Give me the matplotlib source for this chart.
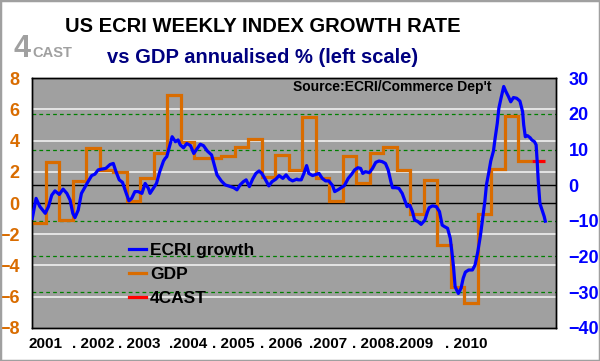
import matplotlib
matplotlib.use('Agg')
from matplotlib import pyplot as plt
from matplotlib.patches import Rectangle
import numpy as np

plt.rcParams['font.family'] = ['Liberation Sans', 'DejaVu Sans']

# quarterly GDP, annualised %, from 2001 Q1 to 2010 Q1 (left scale)
gdp_start = 2001.0
gdp = [-1.3, 2.6, -1.1, 1.4,
       3.5, 2.1, 2.0, 0.1,
       1.6, 3.2, 6.9, 3.9,
       2.9, 2.9, 3.0, 3.6,
       4.1, 1.7, 3.1, 2.1,
       5.5, 1.6, 0.1, 3.0,
       1.3, 3.2, 3.6, 2.1,
       -0.7, 1.5, -2.7, -5.4,
       -6.4, -0.7, 2.2, 5.6,
       2.7]
# 4CAST forecast for 2010 Q2
fcast = [2.7]

# ECRI weekly index growth (right scale)
ecri_t = [2001.00, 2001.07, 2001.14, 2001.24, 2001.30, 2001.36, 2001.42, 2001.50, 2001.57, 2001.64,
          2001.70, 2001.75, 2001.79, 2001.85, 2001.91, 2001.98, 2002.04, 2002.10, 2002.16, 2002.22,
          2002.28, 2002.36, 2002.44, 2002.50, 2002.55, 2002.61, 2002.67, 2002.74, 2002.79, 2002.84,
          2002.90, 2002.96, 2003.03, 2003.09, 2003.15, 2003.18, 2003.24, 2003.30, 2003.36, 2003.43,
          2003.46,
          2003.49, 2003.54, 2003.59, 2003.65, 2003.70, 2003.74, 2003.80, 2003.86, 2003.93, 2003.99,
          2004.05, 2004.11, 2004.17, 2004.24, 2004.32, 2004.38, 2004.42, 2004.50, 2004.57, 2004.67,
          2004.73, 2004.79, 2004.85, 2004.91, 2004.96, 2005.02, 2005.08, 2005.14, 2005.20, 2005.25,
          2005.32, 2005.38, 2005.44, 2005.51, 2005.57, 2005.64, 2005.70, 2005.76, 2005.82, 2005.90,
          2005.92, 2005.98, 2006.03, 2006.08, 2006.12, 2006.19, 2006.25, 2006.31, 2006.37, 2006.43,
          2006.49, 2006.56, 2006.60, 2006.66, 2006.72, 2006.78, 2006.85, 2006.91, 2006.97, 2007.03,
          2007.08, 2007.12, 2007.17, 2007.24, 2007.30, 2007.36, 2007.42, 2007.48, 2007.54, 2007.59,
          2007.64, 2007.67, 2007.73, 2007.79, 2007.85, 2007.90, 2007.94, 2007.99, 2008.04, 2008.08,
          2008.14, 2008.20, 2008.27, 2008.32,
          2008.35, 2008.41, 2008.48, 2008.54, 2008.59, 2008.63, 2008.69, 2008.74, 2008.77, 2008.80,
          2008.83, 2008.89, 2008.94, 2008.98, 2009.02, 2009.08, 2009.15, 2009.20, 2009.25, 2009.30,
          2009.34, 2009.38, 2009.41, 2009.45, 2009.49, 2009.54, 2009.57, 2009.61, 2009.64, 2009.68,
          2009.73, 2009.77, 2009.82, 2009.86, 2009.91, 2009.97, 2010.03, 2010.08, 2010.10, 2010.13,
          2010.17, 2010.22, 2010.25, 2010.30, 2010.33, 2010.35, 2010.37, 2010.40, 2010.44, 2010.48,
          2010.50]
ecri_v = [-9.3, -3.7, -6.0, -7.9, -6.0, -2.8, -1.6, -2.6, -1.1, -2.3,
          -4.2, -7.9, -9.1, -7.0, -2.3, -0.4, 1.2, 2.7, 3.1, 4.3,
          4.5, 4.7, 5.8, 6.1, 3.8, 1.5, 0.8, -2.3, -4.4, -3.7,
          -1.8, -1.8, -2.3, 0.5, -0.9, -2.3, -0.9, 0.5, 3.8, 6.8,
          7.5,
          8.0, 10.8, 13.6, 12.2, 12.7, 11.3, 10.5, 11.7, 11.1, 8.9,
          10.2, 11.5, 11.1, 9.6, 8.5, 5.2, 2.9, 1.2, 0.1, -0.4,
          -0.7, -1.3, 0.1, 1.0, 1.5, -0.4, 1.7, 3.3, 4.0, 3.3,
          1.5, -0.2, 1.0, 1.7, 2.7, 1.9, 2.9, 1.7, 1.2, 1.7,
          1.5, 1.5, 3.3, 5.5, 3.3, 2.7, 3.0, 3.3, 1.9, 1.2,
          1.2, -0.1, -1.8, -1.3, -0.7, -0.1, 1.9, 3.0, 4.3, 4.9,
          4.7, 3.3, 3.8, 3.5, 4.7, 6.4, 6.8, 6.6, 6.1, 4.3,
          1.0, -0.7, -0.7, -0.9, -2.3, -4.4, -6.0, -5.6, -7.4, -9.8,
          -10.2, -11.0, -9.8, -7.4,
          -6.3, -5.8, -6.0, -7.4, -11.2, -11.6, -12.1, -14.9, -18.7, -22.9,
          -28.5, -30.4, -28.9, -26.1, -24.4, -23.8, -23.8, -22.4, -18.7, -14.0,
          -9.3, -4.6, 0.1, 3.3, 6.8, 9.6, 13.1, 17.3, 21.6, 24.4,
          27.7, 26.3, 24.8, 23.4, 24.6, 24.4, 23.6, 20.6, 16.9, 13.6,
          13.9, 13.3, 12.7, 12.2, 11.3, 6.6, 1.0, -5.1, -7.0, -8.8,
          -10.1]

left_ticks = [-8, -6, -4, -2, 0, 2, 4, 6, 8]
right_ticks = [-40, -30, -20, -10, 0, 10, 20, 30]
year_labels = ['2001', '. 2002', '. 2003', '.2004', '. 2005', '. 2006',
               '.2007', '. 2008', '.2009', '. 2010']

ORANGE = '#D96C00'
BLUE = '#0000FF'
GRAY_BG = '#A0A0A0'

fig = plt.figure(figsize=(6.0, 3.61), dpi=100)
ax = fig.add_axes([32.3 / 600, 1 - 327.7 / 361, (556 - 32.3) / 600, (327.7 - 78.3) / 361])
ax2 = ax.twinx()

xlim = (2001.0, 2001.0 + (556 - 32.3) / 54.0)
ylim_l = (-8, 8)
ylim_r = (-40, 30)

def r2l(r):
    return ylim_l[0] + (r - ylim_r[0]) * (ylim_l[1] - ylim_l[0]) / (ylim_r[1] - ylim_r[0])

ax.set_facecolor(GRAY_BG)
for v in left_ticks[1:-1]:
    if v == 0:
        ax.axhline(v, color='black', lw=1.0, zorder=1)
    else:
        ax.axhline(v, color='#F0F0F0', lw=1.2, zorder=1)
for r in right_ticks[1:-1]:
    if r == 0:
        ax.axhline(r2l(r), color='black', lw=1.0, zorder=1)
    else:
        ax.axhline(r2l(r), color='#008000', lw=0.9, ls=(0, (3, 2.5)), zorder=1)

edges = gdp_start + 0.25 * np.arange(len(gdp) + 1)
ax.stairs(gdp, edges, baseline=None, color=ORANGE, lw=2.3, zorder=3)
f_edges = edges[-1] + 0.25 * np.arange(len(fcast) + 1)
ax.stairs(fcast, f_edges, baseline=None, color='#FF0000', lw=2.3, zorder=3)

ax2.plot(ecri_t, ecri_v, color=BLUE, lw=2.3, zorder=4)

ax.set_xlim(*xlim)
ax.set_ylim(*ylim_l)
ax2.set_ylim(*ylim_r)
ax.set_xticks([])
ax.set_yticks(left_ticks)
ax2.set_yticks(right_ticks)
ax.tick_params(axis='y', length=0, pad=9, labelsize=13, labelcolor=ORANGE)
ax2.tick_params(axis='y', length=0, pad=9, labelsize=13, labelcolor=BLUE)
for lab in ax.get_yticklabels() + ax2.get_yticklabels():
    lab.set_fontweight('bold')
for sp in list(ax.spines.values()) + list(ax2.spines.values()):
    sp.set_color('black')
    sp.set_linewidth(1.0)

# year labels under the axis
label_px = [28.3, 72.0, 118.5, 168.5, 212.5, 259.5, 309.5, 352.5, 395.0, 445.0]
for lab, px in zip(year_labels, label_px):
    fig.text(px / 600, 1 - 344.5 / 361, lab, ha='left', va='center',
             fontsize=11, fontweight='bold', color='black')

# legend
handles = [plt.Line2D([], [], color=BLUE, lw=2.3),
           plt.Line2D([], [], color=ORANGE, lw=2.3),
           plt.Line2D([], [], color='#FF0000', lw=2.3)]
leg = fig.legend(handles, ['ECRI growth', 'GDP', '4CAST'], loc='upper left',
                 bbox_to_anchor=(129 / 600, 1 - 243 / 361), frameon=False,
                 borderpad=0, borderaxespad=0, handlelength=1.0, handletextpad=0.2,
                 labelspacing=0.5, prop={'weight': 'bold', 'size': 12.5})

# titles
fig.text(262.5 / 600, 1 - 31.7 / 361, 'US ECRI WEEKLY INDEX GROWTH RATE', ha='center',
         va='baseline', fontsize=14.5, fontweight='bold', color='black')
fig.text(262.5 / 600, 1 - 62.7 / 361, 'vs GDP annualised % (left scale)', ha='center',
         va='baseline', fontsize=14.5, fontweight='bold', color='#000080')
fig.text(14 / 600, 1 - 57.3 / 361, '4', ha='left', va='baseline',
         fontsize=22, fontweight='bold', color='#A0A0A0')
fig.text(32 / 600, 1 - 57.3 / 361, 'CAST', ha='left', va='baseline',
         fontsize=10.5, fontweight='bold', color='#A0A0A0')
fig.text(293 / 600, 1 - 90.7 / 361, "Source:ECRI/Commerce Dep't", ha='left',
         va='baseline', fontsize=10, fontweight='bold', color='black')

fig.patches.append(Rectangle((0, 0), 1, 1, transform=fig.transFigure, fill=False,
                             ec='#A0A0A0', lw=2.5))

fig.savefig('out.png', dpi=100)
